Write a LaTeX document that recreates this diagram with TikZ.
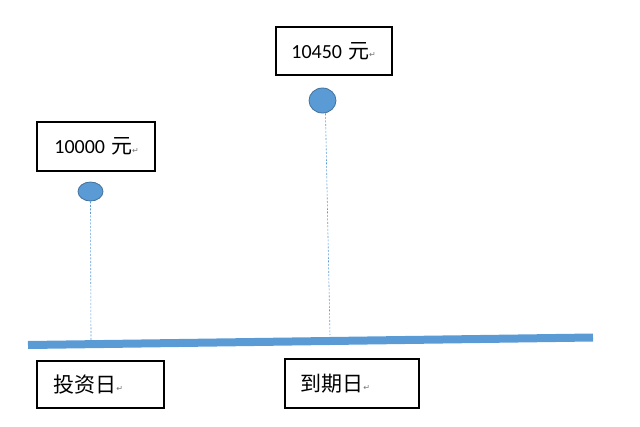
\documentclass[tikz,border=0pt]{standalone}
\usepackage{fontspec}
\usetikzlibrary{shapes.geometric}
\setmainfont{Carlito}
\newfontfamily\cjk{Noto Sans CJK SC}
\newfontfamily\symfont{DejaVu Sans}
\newcommand{\retmark}{{\symfont\fontsize{8pt}{8pt}\selectfont\color{black!55}\raisebox{0.5pt}{↵}}}
\newcommand{\cjkbig}{\cjk\fontsize{21pt}{24pt}\selectfont}
\definecolor{tlblue}{HTML}{5B9BD5}
\definecolor{tledge}{HTML}{41719C}
\begin{document}
\begin{tikzpicture}[x=1pt,y=-1pt,
  box/.style={draw=black, line width=1.6pt, inner sep=0pt},
  lbl/.style={anchor=west, inner sep=0pt, font=\fontsize{20pt}{24pt}\selectfont},
  dot/.style={ellipse, draw=tledge, line width=0.8pt, fill=tlblue, inner sep=0pt},
  guide/.style={draw=tlblue, line width=0.6pt, dash pattern=on 2pt off 1.5pt},
  axis/.style={draw=tlblue, line width=8pt}]
\useasboundingbox (0,0) rectangle (640,426);
% top boxes
\node[box, minimum width=118pt, minimum height=49pt] (b1) at (96,146.5) {};
\node[lbl] (t1) at ([xshift=18pt,yshift=0pt]b1.west) {10000\hspace{6pt}{\cjkbig 元}\retmark};
\node[box, minimum width=116pt, minimum height=48pt] (b2) at (334,51) {};
\node[lbl] (t2) at ([xshift=16pt]b2.west) {10450\hspace{6pt}{\cjkbig 元}\retmark};
% bottom boxes
\node[box, minimum width=127pt, minimum height=47pt] (b3) at (100.5,384.5) {};
\node[lbl] (t3) at ([xshift=17pt]b3.west) {{\cjkbig 投资日}\retmark};
\node[box, minimum width=134pt, minimum height=49pt] (b4) at (352,383.5) {};
\node[lbl] (t4) at ([xshift=16pt]b4.west) {{\cjkbig 到期日}\retmark};
% axis
\coordinate (a0) at (28,345);
\coordinate (a1) at (593,337.5);
\draw[axis] (a0) -- (a1);
% guides and dots
\coordinate (g1) at (91,340);
\coordinate (g2) at (330,335);
\node[dot, minimum width=25pt, minimum height=19pt] (c1) at (90.5,191.5) {};
\node[dot, minimum width=27pt, minimum height=25pt] (c2) at (322.5,100.5) {};
\draw[guide] (c1.south) -- (g1);
\draw[guide] ([xshift=3pt]c2.south) -- (g2);
\end{tikzpicture}
\end{document}
